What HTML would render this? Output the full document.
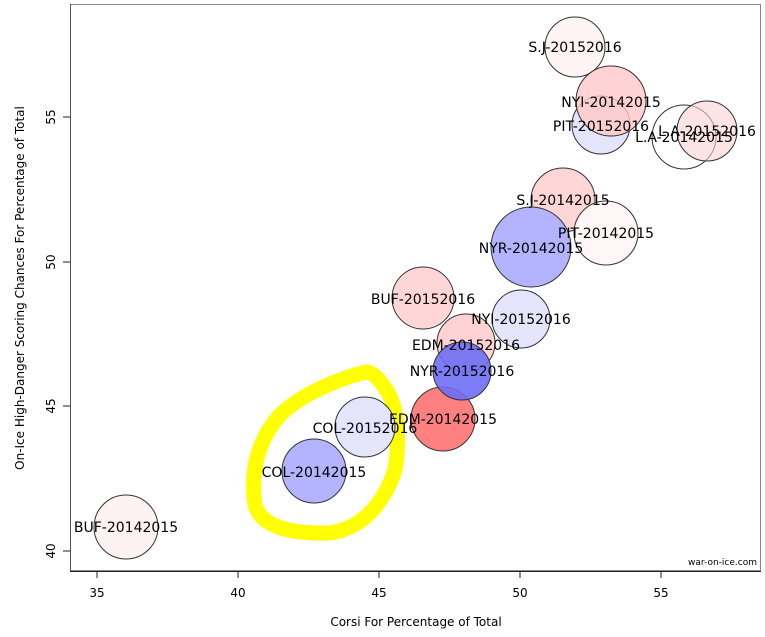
<!DOCTYPE html><html><head><style>body{margin:0;background:#fff}</style></head><body>
<svg width="765" height="632" xmlns="http://www.w3.org/2000/svg" font-family="DejaVu Sans, sans-serif">
<rect width="765" height="632" fill="#fff"/>
<rect x="70.5" y="4.5" width="690" height="566" fill="none" stroke="#888"/>
<line x1="70.5" y1="4" x2="70.5" y2="571" stroke="#555"/>
<line x1="70" y1="571.5" x2="761" y2="571.5" stroke="#222"/>
<g stroke="#222">
<line x1="97" y1="571" x2="97" y2="578"/><line x1="238" y1="571" x2="238" y2="578"/><line x1="379" y1="571" x2="379" y2="578"/><line x1="520" y1="571" x2="520" y2="578"/><line x1="661" y1="571" x2="661" y2="578"/>
<line x1="63" y1="551" x2="70" y2="551"/><line x1="63" y1="406" x2="70" y2="406"/><line x1="63" y1="262" x2="70" y2="262"/><line x1="63" y1="117" x2="70" y2="117"/>
</g>
<g font-size="12" text-anchor="middle" fill="#000">
<text x="97" y="597">35</text><text x="238" y="597">40</text><text x="379" y="597">45</text><text x="520" y="597">50</text><text x="661" y="597">55</text>
<text transform="translate(55,551) rotate(-90)">40</text>
<text transform="translate(55,406) rotate(-90)">45</text>
<text transform="translate(55,262) rotate(-90)">50</text>
<text transform="translate(55,117) rotate(-90)">55</text>
<text x="416" y="626">Corsi For Percentage of Total</text>
<text transform="translate(24,288) rotate(-90)">On-Ice High-Danger Scoring Chances For Percentage of Total</text>
</g>
<text x="757" y="565" font-size="9" text-anchor="end">war-on-ice.com</text>
<path d="M366,372 C340,378 300,395 280,415 C258,440 250,470 255,505 C262,530 300,534 330,533 C365,528 385,500 395,470 C400,440 398,405 385,388 C378,378 372,372 366,372 Z" fill="none" stroke="#ffff00" stroke-width="15" stroke-linejoin="round"/>
<g stroke="#333" stroke-width="1">
<circle cx="126" cy="527" r="32" fill="#fcf2f2"/>
<circle cx="314" cy="471" r="32" fill="#b3b3ff"/>
<circle cx="365" cy="427" r="30" fill="#e4e4fb"/>
<circle cx="443" cy="419" r="32" fill="#ff8080"/>
<circle cx="466" cy="343" r="29" fill="rgba(255,200,200,0.8)"/>
<circle cx="462" cy="371" r="29" fill="rgba(110,110,245,0.9)"/>
<circle cx="521" cy="319" r="29" fill="#e4e4fb"/>
<circle cx="423" cy="298" r="31" fill="#ffd6d6"/>
<circle cx="563" cy="200" r="32" fill="#ffd6d6"/>
<circle cx="531" cy="247" r="40" fill="#b3b3ff"/>
<circle cx="606" cy="233" r="32" fill="#fff7f7"/>
<circle cx="575" cy="47" r="30" fill="#fff4f4"/>
<circle cx="601" cy="125" r="29" fill="#e4e4fb"/>
<circle cx="611" cy="101" r="35" fill="rgba(255,200,200,0.8)"/>
<circle cx="684" cy="137" r="32" fill="rgba(255,255,255,0.3)"/>
<circle cx="707" cy="131" r="30" fill="rgba(250,210,210,0.6)"/>
</g>
<g font-size="14" text-anchor="middle" fill="#000">
<text x="126" y="532">BUF-20142015</text>
<text x="314" y="477">COL-20142015</text>
<text x="365" y="433">COL-20152016</text>
<text x="443" y="424">EDM-20142015</text>
<text x="462" y="376">NYR-20152016</text>
<text x="466" y="350">EDM-20152016</text>
<text x="521" y="324">NYI-20152016</text>
<text x="423" y="304">BUF-20152016</text>
<text x="531" y="253">NYR-20142015</text>
<text x="606" y="238">PIT-20142015</text>
<text x="563" y="205">S.J-20142015</text>
<text x="575" y="52">S.J-20152016</text>
<text x="611" y="107">NYI-20142015</text>
<text x="601" y="131">PIT-20152016</text>
<text x="707" y="136">L.A-20152016</text>
<text x="684" y="142">L.A-20142015</text>
</g>
</svg>
</body></html>
